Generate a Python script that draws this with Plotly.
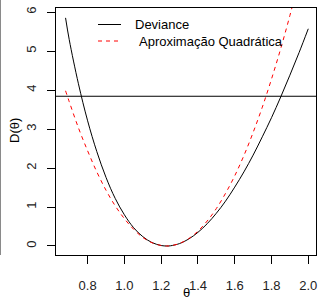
import plotly.graph_objects as go

# ---- data ----
theta = [0.68, 0.70, 0.75, 0.80, 0.85, 0.90, 0.95, 1.00, 1.05, 1.10, 1.15, 1.20, 1.23,
         1.25, 1.30, 1.35, 1.40, 1.45, 1.50, 1.55, 1.60, 1.65, 1.70, 1.75, 1.80,
         1.85, 1.90, 1.95, 2.00]
deviance = [5.85, 5.29, 4.16, 3.21, 2.42, 1.76, 1.22, 0.80, 0.47, 0.24, 0.088, 0.012, 0.0,
            0.005, 0.062, 0.18, 0.35, 0.57, 0.84, 1.15, 1.51, 1.90, 2.33, 2.80, 3.29,
            3.82, 4.38, 4.96, 5.57]
quadratic = [3.98, 3.70, 3.03, 2.44, 1.90, 1.43, 1.03, 0.70, 0.43, 0.22, 0.084, 0.012, 0.0,
             0.005, 0.065, 0.19, 0.38, 0.64, 0.96, 1.35, 1.80, 2.32, 2.91, 3.56, 4.28,
             5.06, 5.91, 6.83, 7.81]
cutoff = 3.84
x_ticks = [0.8, 1.0, 1.2, 1.4, 1.6, 1.8, 2.0]
y_ticks = [0, 1, 2, 3, 4, 5, 6]
legend_labels = ["Deviance", "Aproximação Quadrática"]

# ---- layout geometry (pixels) ----
W, H = 318, 300
L, R, T, B = 56, 2, 8, 45
pw, ph = W - L - R, H - T - B


def px(x):
    return (x - L) / pw


def py(y):
    return (H - B - y) / ph


FONT = "Liberation Sans, Arial, sans-serif"

fig = go.Figure()
fig.add_trace(go.Scatter(x=theta, y=deviance, mode="lines", name=legend_labels[0],
                         line=dict(color="black", width=1, shape="spline"),
                         showlegend=False))
fig.add_trace(go.Scatter(x=theta, y=quadratic, mode="lines", name=legend_labels[1],
                         line=dict(color="red", width=1, dash="4px,4px", shape="spline"),
                         showlegend=False))

shapes = [
    dict(type="line", xref="paper", yref="y", x0=0, x1=1, y0=cutoff, y1=cutoff,
         line=dict(color="black", width=1)),
    # legend samples
    dict(type="line", xref="paper", yref="paper", x0=px(98), x1=px(121), y0=py(24.5), y1=py(24.5),
         line=dict(color="black", width=1)),
    dict(type="line", xref="paper", yref="paper", x0=px(98), x1=px(121), y0=py(41), y1=py(41),
         line=dict(color="red", width=1, dash="4px,4px")),
    # grey edge line at the far left
    dict(type="line", xref="paper", yref="paper", x0=px(0.5), x1=px(0.5), y0=py(0), y1=py(255),
         line=dict(color="#8a8a8a", width=1)),
]

annotations = [
    dict(text=legend_labels[0], xref="paper", yref="paper", x=px(133), y=py(24.5),
         xanchor="left", yanchor="middle", showarrow=False,
         font=dict(family=FONT, size=13, color="black")),
    dict(text=legend_labels[1], xref="paper", yref="paper", x=px(137), y=py(41),
         xanchor="left", yanchor="middle", showarrow=False,
         font=dict(family=FONT, size=13, color="black")),
    dict(text="D(θ)", xref="paper", yref="paper", x=px(14), y=py(131),
         xanchor="center", yanchor="middle", showarrow=False, textangle=-90,
         font=dict(family=FONT, size=13, color="black")),
    dict(text="θ", xref="paper", yref="paper", x=px(186), y=py(292.5),
         xanchor="center", yanchor="middle", showarrow=False,
         font=dict(family=FONT, size=13, color="black")),
]

fig.update_layout(
    width=W, height=H,
    margin=dict(l=L, r=R, t=T, b=B, pad=0),
    paper_bgcolor="white", plot_bgcolor="white",
    font=dict(family=FONT, size=13, color="black"),
    shapes=shapes, annotations=annotations,
    showlegend=False,
)
fig.update_xaxes(range=[0.628, 2.042], tickvals=x_ticks, ticktext=[f"{v:.1f}" for v in x_ticks],
                 showgrid=False, zeroline=False, showline=True, mirror=True,
                 linecolor="black", linewidth=1, ticks="outside", ticklen=8,
                 tickcolor="black", tickwidth=1, ticklabelstandoff=10,
                 tickfont=dict(size=13, color="#222"))
fig.update_yaxes(range=[-0.231, 6.103], tickvals=y_ticks, ticktext=[str(v) for v in y_ticks],
                 showgrid=False, zeroline=False, showline=True, mirror=True,
                 linecolor="black", linewidth=1, ticks="outside", ticklen=8,
                 tickcolor="black", tickwidth=1, tickangle=-90, ticklabelstandoff=6,
                 tickfont=dict(size=13, color="#222"))

fig.write_html("out.html", config={"displayModeBar": False},
               post_script="document.body.style.margin='0';document.body.style.overflow='hidden';")
